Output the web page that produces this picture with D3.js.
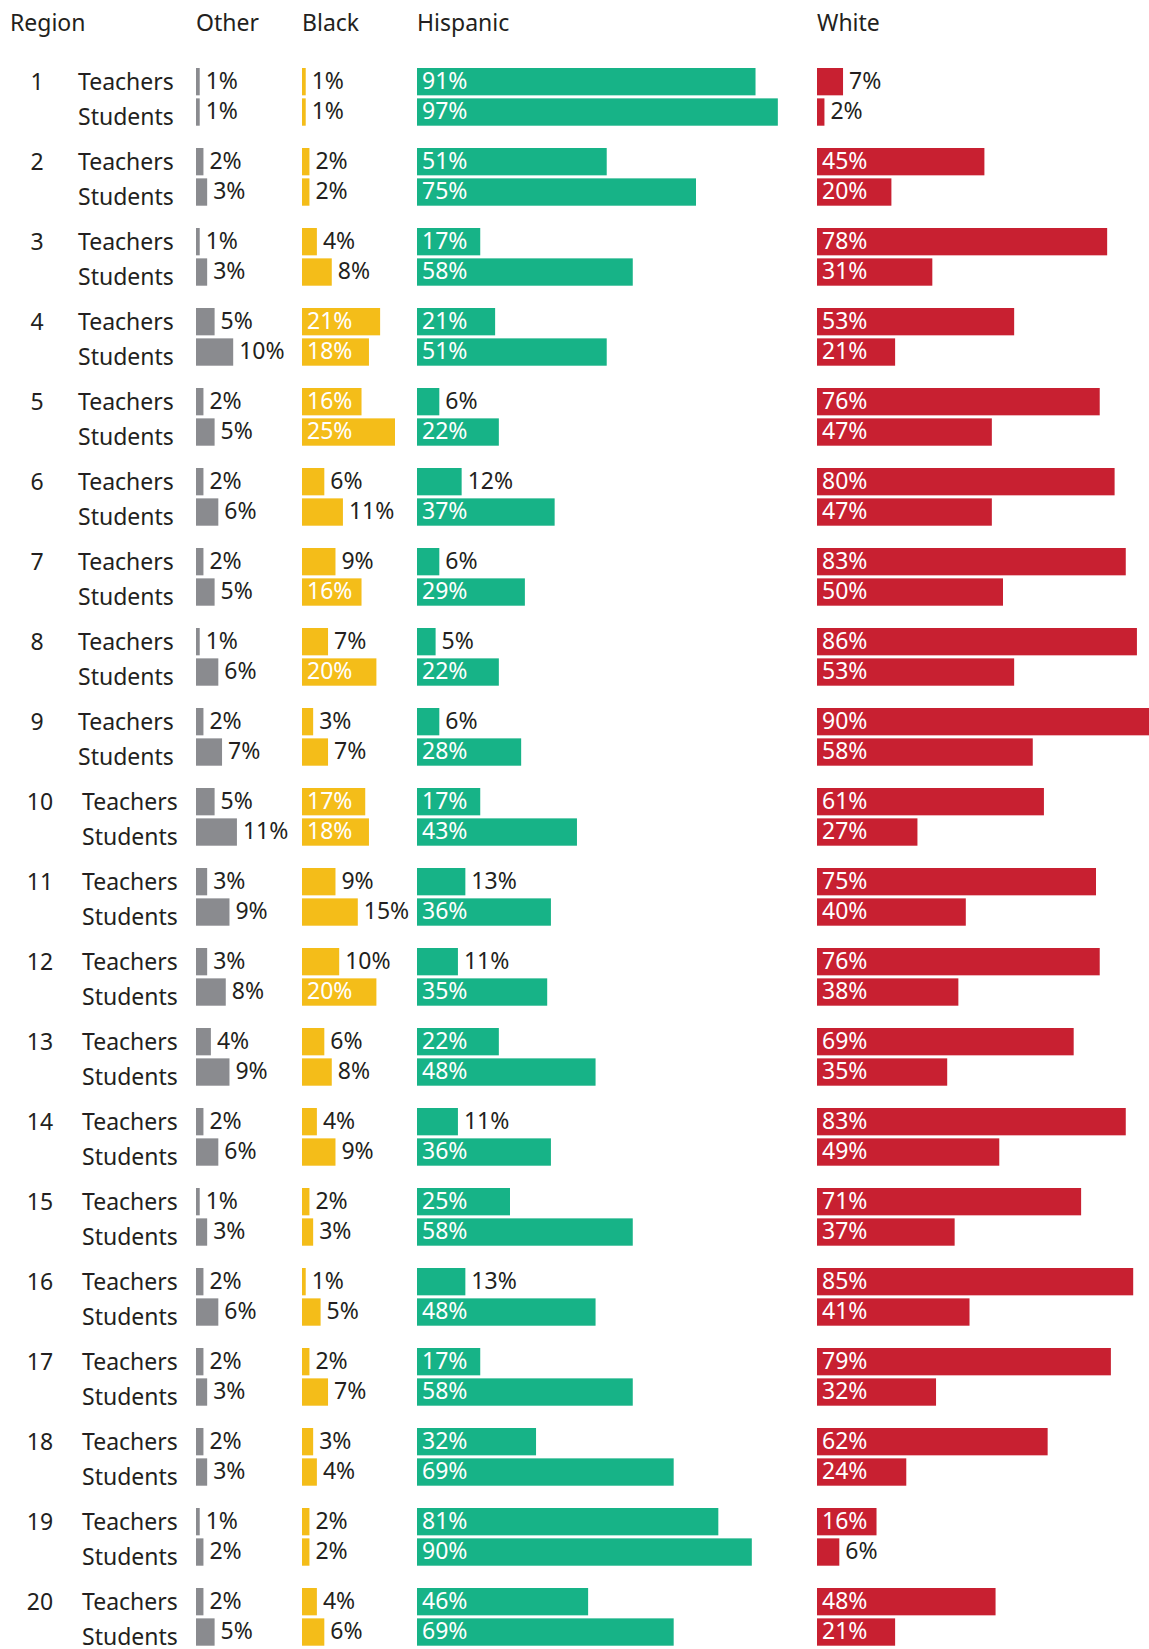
<!DOCTYPE html>
<html>
<head>
<meta charset="utf-8">
<script src="https://cdn.jsdelivr.net/npm/d3@7"></script>
<style>
  body { margin: 0; background: #fff; }
  text { font-family: "Noto Sans", "Open Sans", sans-serif; }
</style>
</head>
<body>
<div id="chart"></div>
<script>
// region numbers and the two rows shown for each
const regions = d3.range(1, 21).map(String);
const groups = ["Teachers", "Students"];
const races = ["Other", "Black", "Hispanic", "White"];

// percentages, one value per region
const otherTeachers = [1, 2, 1, 5, 2, 2, 2, 1, 2, 5, 3, 3, 4, 2, 1, 2, 2, 2, 1, 2];
const otherStudents = [1, 3, 3, 10, 5, 6, 5, 6, 7, 11, 9, 8, 9, 6, 3, 6, 3, 3, 2, 5];
const blackTeachers = [1, 2, 4, 21, 16, 6, 9, 7, 3, 17, 9, 10, 6, 4, 2, 1, 2, 3, 2, 4];
const blackStudents = [1, 2, 8, 18, 25, 11, 16, 20, 7, 18, 15, 20, 8, 9, 3, 5, 7, 4, 2, 6];
const hispanicTeachers = [91, 51, 17, 21, 6, 12, 6, 5, 6, 17, 13, 11, 22, 11, 25, 13, 17, 32, 81, 46];
const hispanicStudents = [97, 75, 58, 51, 22, 37, 29, 22, 28, 43, 36, 35, 48, 36, 58, 48, 58, 69, 90, 69];
const whiteTeachers = [7, 45, 78, 53, 76, 80, 83, 86, 90, 61, 75, 76, 69, 83, 71, 85, 79, 62, 16, 48];
const whiteStudents = [2, 20, 31, 21, 47, 47, 50, 53, 58, 27, 40, 38, 35, 49, 37, 41, 32, 24, 6, 21];

const series = {
  Other: { Teachers: otherTeachers, Students: otherStudents },
  Black: { Teachers: blackTeachers, Students: blackStudents },
  Hispanic: { Teachers: hispanicTeachers, Students: hispanicStudents },
  White: { Teachers: whiteTeachers, Students: whiteStudents }
};

const width = 1149;
const height = 1649;
const textColor = "#231f20";
const fontSize = 23;

const color = d3.scaleOrdinal()
  .domain(races)
  .range(["#8a8b8f", "#f4bd19", "#17b387", "#c82031"]);

// left edge of each race column
const colX = d3.scaleOrdinal()
  .domain(races)
  .range([196, 302, 417, 817]);

const x = d3.scaleLinear().domain([0, 100]).range([0, 372]);

const y = d3.scaleBand().domain(regions).range([68, 68 + 80 * regions.length]);
const yInner = d3.scaleBand().domain(groups).range([0, 57.7]).paddingInner(0.1);

const svg = d3.select("#chart")
  .append("svg")
  .attr("width", width)
  .attr("height", height);

// column headers
svg.append("text")
  .attr("x", 10)
  .attr("y", 31)
  .attr("fill", textColor)
  .attr("font-size", fontSize)
  .text("Region");

svg.selectAll(".header")
  .data(races)
  .join("text")
  .attr("class", "header")
  .attr("x", d => colX(d))
  .attr("y", 31)
  .attr("fill", textColor)
  .attr("font-size", fontSize)
  .text(d => d);

const rows = svg.selectAll(".region")
  .data(regions)
  .join("g")
  .attr("class", "region")
  .attr("transform", d => `translate(0, ${y(d)})`);

// region number
rows.append("text")
  .attr("x", d => +d < 10 ? 37 : 40)
  .attr("y", 22)
  .attr("text-anchor", "middle")
  .attr("fill", textColor)
  .attr("font-size", fontSize)
  .text(d => d);

// Teachers / Students labels
const labelDy = { Teachers: 8.3, Students: 13 };
groups.forEach(g => {
  rows.append("text")
    .attr("x", d => +d < 10 ? 78 : 82)
    .attr("y", yInner(g) + yInner.bandwidth() / 2 + labelDy[g])
    .attr("fill", textColor)
    .attr("font-size", fontSize)
    .text(g);
});

// bars and value labels
const cells = [];
regions.forEach((r, i) => {
  races.forEach(race => {
    groups.forEach(g => {
      cells.push({ region: r, race: race, group: g, value: series[race][g][i] });
    });
  });
});

rows.each(function(r) {
  const row = d3.select(this);
  const data = cells.filter(c => c.region === r);

  row.selectAll(".bar")
    .data(data)
    .join("rect")
    .attr("class", "bar")
    .attr("x", d => colX(d.race))
    .attr("y", d => yInner(d.group))
    .attr("width", d => x(d.value))
    .attr("height", yInner.bandwidth())
    .attr("fill", d => color(d.race));

  row.selectAll(".value")
    .data(data)
    .join("text")
    .attr("class", "value")
    .attr("x", d => d.value >= 16 ? colX(d.race) + 5 : colX(d.race) + x(d.value) + 6)
    .attr("y", d => yInner(d.group) + yInner.bandwidth() / 2 + 7)
    .attr("fill", d => d.value >= 16 ? "#fff" : textColor)
    .attr("font-size", fontSize)
    .text(d => d.value + "%");
});
</script>
</body>
</html>
